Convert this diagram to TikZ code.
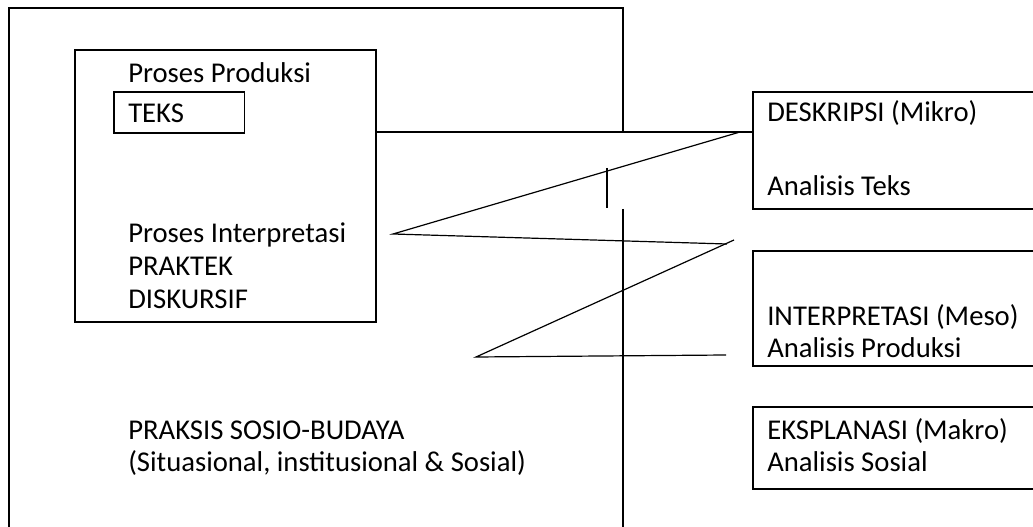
\documentclass[tikz,border=0pt]{standalone}
\usepackage{fontspec}
\setmainfont{Carlito}
\begin{document}
\begin{tikzpicture}[x=0.75pt,y=-0.75pt,
  box/.style={draw, line width=1.3pt, anchor=north west, inner sep=0pt},
  thin/.style={line width=0.9pt},
  lbl/.style={anchor=base west, inner sep=0pt, font=\fontsize{21.5}{24}\selectfont}]
\useasboundingbox (0,0) rectangle (1033,527);
\clip (0,0) rectangle (1033,527);
% outer frame
\draw[line width=1.3pt] (9,560) -- (9,8) -- (623,8) -- (623,132);
% boxes
\node[box, minimum width=225.75pt, minimum height=204pt] (inner) at (74,49) {};
\node[box, minimum width=98pt, minimum height=31pt] (teks) at (113,91) {};
\node[box, minimum width=225pt, minimum height=87.75pt] (desk) at (752,91) {};
\node[box, minimum width=225pt, minimum height=86.25pt] (interp) at (752,250) {};
\node[box, minimum width=225pt, minimum height=61.5pt] (ekspl) at (752,406) {};
% texts
\node[lbl] (t1) at (128,83) {Proses Produksi};
\node[lbl] (t2) at (128,123) {TEKS};
\node[lbl] (t3) at (128,243) {Proses Interpretasi};
\node[lbl] (t4) at (128,276) {PRAKTEK};
\node[lbl] (t5) at (128,309) {DISKURSIF};
\node[lbl] (t6) at (128,440) {PRAKSIS SOSIO-BUDAYA};
\node[lbl] (t7) at (128,472) {(Situasional, institusional \& Sosial)};
\node[lbl] (r1) at (767,122) {DESKRIPSI (Mikro)};
\node[lbl] (r2) at (767,196) {Analisis Teks};
\node[lbl] (r3) at (767,326) {INTERPRETASI (Meso)};
\node[lbl] (r4) at (767,358) {Analisis Produksi};
\node[lbl] (r5) at (767,440) {EKSPLANASI (Makro)};
\node[lbl] (r6) at (767,472) {Analisis Sosial};
% connectors
\draw[line width=1.3pt] (inner.east |- 0,132) -- (desk.west |- 0,132);
\coordinate (a1) at (740,132);
\coordinate (a2) at (393,234);
\coordinate (a3) at (727,244);
\coordinate (b1) at (734,240);
\coordinate (b2) at (476,357);
\coordinate (b3) at (726,355);
\draw[thin] (a1) -- (a2) -- (a3);
\draw[thin] (b1) -- (b2) -- (b3);
\coordinate (s1) at (607,168);
\coordinate (s2) at (607,208);
\draw[line width=1.3pt] (s1) -- (s2);
\coordinate (v1) at (623,209);
\coordinate (v2) at (623,560);
\draw[line width=1.3pt] (v1) -- (v2);
\end{tikzpicture}
\end{document}
